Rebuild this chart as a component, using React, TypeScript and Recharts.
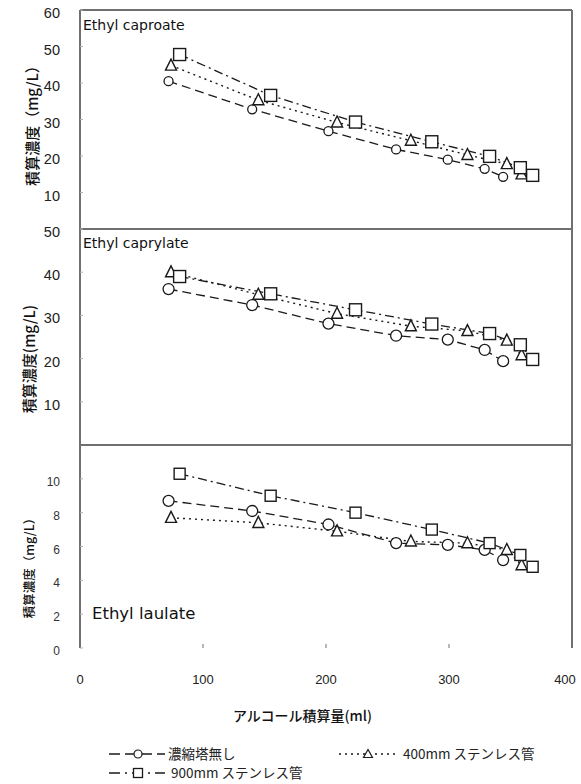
import React from 'react';
import { LineChart, Line, XAxis, YAxis } from 'recharts';

// x positions (アルコール積算量, ml) per series
const xNone = [72, 140, 202, 257, 299, 329, 344];
const x400 = [74, 145, 209, 269, 315, 347, 359];
const x900 = [81, 155, 224, 286, 333, 358, 368];

// Ethyl caproate (mg/L)
const caproNone = [40.5, 32.8, 26.8, 21.8, 19.0, 16.5, 14.3];
const capro400 = [44.8, 35.3, 29.2, 24.2, 20.3, 17.8, 15.0];
const capro900 = [47.8, 36.6, 29.3, 23.9, 19.9, 16.8, 14.7];

// Ethyl caprylate (mg/L)
const caprylNone = [36.1, 32.4, 28.1, 25.3, 24.4, 22.0, 19.4];
const capryl400 = [40.0, 34.8, 30.4, 27.5, 26.4, 24.2, 20.8];
const capryl900 = [39.0, 35.0, 31.3, 28.0, 25.8, 23.2, 19.8];

// Ethyl laulate (mg/L)
const laulNone = [8.7, 8.1, 7.3, 6.2, 6.1, 5.8, 5.2];
const laul400 = [7.7, 7.4, 6.9, 6.3, 6.2, 5.8, 4.9];
const laul900 = [10.3, 9.0, 8.0, 7.0, 6.2, 5.5, 4.8];

const xTicks = [0, 100, 200, 300, 400];
const caproTicks = [10, 20, 30, 40, 50, 60];
const caprylTicks = [10, 20, 30, 40, 50];
const laulTicks = [0, 2, 4, 6, 8, 10];

const seriesNames = ['濃縮塔無し', '400mm ステンレス管', '900mm ステンレス管'];
const panelTitles = ['Ethyl caproate', 'Ethyl caprylate', 'Ethyl laulate'];
const yTitles = ['積算濃度（mg/L）', '積算濃度(mg/L)', '積算濃度（mg/L）'];
const xTitle = 'アルコール積算量(ml)';

const pts = (xs: number[], ys: number[]) => xs.map((x, i) => ({ x, y: ys[i] }));

const INK = '#1a1a1a';
const AXIS = '#707070';
const SANS = '"Liberation Sans", Arial, sans-serif';
const CJK = '"Noto Sans CJK JP", sans-serif';
const LATIN = '"DejaVu Sans", sans-serif';

const DASH_NONE = '9 5';
const DASH_400 = '2 4';
const DASH_900 = '9 4 2 4';

// layout of the plot frame (px)
const PLOT_LEFT = 80;
const PLOT_RIGHT = 572;
const CHART_W = 581;
const Y_MARGIN = 20;
const X_MARGIN = 30;

const circleDot = (r: number) => (p: any) => {
  if (p.cx == null || p.cy == null) return <g key={`c${p.index}`} />;
  return <circle key={`c${p.index}`} cx={p.cx} cy={p.cy} r={r} fill="#fff" stroke={INK} strokeWidth={1.3} />;
};
const triDot = (s: number) => (p: any) => {
  if (p.cx == null || p.cy == null) return <g key={`t${p.index}`} />;
  const { cx, cy } = p;
  const pts = `${cx},${cy - s * 0.58} ${cx - s / 2},${cy + s * 0.42} ${cx + s / 2},${cy + s * 0.42}`;
  return <polygon key={`t${p.index}`} points={pts} fill="#fff" stroke={INK} strokeWidth={1.4} />;
};
const sqDot = (s: number) => (p: any) => {
  if (p.cx == null || p.cy == null) return <g key={`s${p.index}`} />;
  return <rect key={`s${p.index}`} x={p.cx - s / 2} y={p.cy - s / 2} width={s} height={s} fill="#fff" stroke={INK} strokeWidth={1.4} />;
};

// y tick: small inward mark on the axis + right-aligned label
const makeYTick = (fs: number, fill: string) => (p: any) => {
  const ax = p.x + Y_MARGIN;
  const v = p.payload.value;
  return (
    <g key={`yt${v}`}>
      <path d={`M${ax},${p.y}H${ax + 3}`} stroke="#b0b0b0" strokeWidth={1} fill="none" />
      <text x={p.x} y={p.y + 3} textAnchor="end" dominantBaseline="central" fontSize={fs} fill={fill} fontFamily={SANS}>
        {v}
      </text>
    </g>
  );
};

// x tick: small upward mark from the bottom edge, optional label below
const makeXTick = (showLabel: boolean, margin: number) => (p: any) => {
  const ay = p.y - margin;
  const v = p.payload.value;
  const last = v === xTicks[xTicks.length - 1];
  return (
    <g key={`xt${v}`}>
      <path d={`M${p.x},${ay}V${ay - 4}`} stroke={AXIS} strokeWidth={1} fill="none" />
      {showLabel && (
        <text x={p.x + (last ? -7 : 0)} y={ay + 31} textAnchor="middle" dominantBaseline="central" fontSize={13} fill="#222" fontFamily={SANS}>
          {v}
        </text>
      )}
    </g>
  );
};

type PanelProps = {
  top: number;
  plotH: number;
  xAxisH: number;
  yMax: number;
  yTicks: number[];
  none: number[];
  s400: number[];
  s900: number[];
  showXLabels: boolean;
  small: boolean;
  cr: number;
  ts: number;
  ss: number;
};

function Panel(props: PanelProps) {
  const { top, plotH, xAxisH, yMax, yTicks, none, s400, s900, showXLabels, small, cr, ts, ss } = props;
  const h = 10 + plotH + xAxisH;
  const xm = showXLabels ? X_MARGIN : 0;
  return (
    <div style={{ position: 'absolute', left: 0, top: top - 10, width: CHART_W, height: h }}>
      <LineChart width={CHART_W} height={h} margin={{ top: 10, right: CHART_W - PLOT_RIGHT, bottom: 0, left: 0 }}>
        <XAxis
          type="number"
          dataKey="x"
          domain={[0, 400]}
          ticks={xTicks}
          interval={0}
          height={xAxisH}
          stroke={AXIS}
          axisLine={false}
          tickLine={false}
          tickSize={0}
          tickMargin={xm}
          tick={makeXTick(showXLabels, xm)}
        />
        <YAxis
          type="number"
          dataKey="y"
          domain={[0, yMax]}
          ticks={yTicks}
          interval={0}
          width={PLOT_LEFT}
          stroke={AXIS}
          axisLine={false}
          tickLine={false}
          tickSize={0}
          tickMargin={Y_MARGIN}
          tick={makeYTick(small ? 12 : 14.5, small ? '#333' : '#222')}
        />
        <Line
          data={pts(xNone, none)}
          dataKey="y"
          stroke={INK}
          strokeWidth={1.3}
          strokeDasharray={DASH_NONE}
          dot={circleDot(cr)}
          isAnimationActive={false}
        />
        <Line
          data={pts(x400, s400)}
          dataKey="y"
          stroke={INK}
          strokeWidth={1.4}
          strokeDasharray={DASH_400}
          dot={triDot(ts)}
          isAnimationActive={false}
        />
        <Line
          data={pts(x900, s900)}
          dataKey="y"
          stroke={INK}
          strokeWidth={1.3}
          strokeDasharray={DASH_900}
          dot={sqDot(ss)}
          isAnimationActive={false}
        />
      </LineChart>
    </div>
  );
}

const abs = (left: number, top: number, extra: React.CSSProperties = {}): React.CSSProperties => ({
  position: 'absolute',
  left,
  top,
  whiteSpace: 'nowrap',
  lineHeight: 1,
  ...extra,
});

const rotated = (cx: number, cy: number, fontSize: number): React.CSSProperties => ({
  position: 'absolute',
  left: cx,
  top: cy,
  transform: 'translate(-50%, -50%) rotate(-90deg)',
  whiteSpace: 'nowrap',
  fontFamily: CJK,
  fontSize,
  lineHeight: 1,
  color: '#111',
  fontWeight: 500,
});

const hLine = (top: number, w: number): React.CSSProperties => ({
  position: 'absolute', left: PLOT_LEFT, top: top - w / 2, width: PLOT_RIGHT - PLOT_LEFT, height: w, background: AXIS,
});
const vLine = (left: number, top: number, bottom: number): React.CSSProperties => ({
  position: 'absolute', left: left - 0.75, top, width: 1.5, height: bottom - top, background: AXIS,
});

function LegendIcon({ dash, kind }: { dash: string; kind: 'c' | 't' | 's' }) {
  return (
    <svg width={56} height={14} style={{ display: 'block' }}>
      <line x1={0} y1={7} x2={56} y2={7} stroke={INK} strokeWidth={1.4} strokeDasharray={dash} />
      {kind === 'c' && <circle cx={29} cy={7} r={4} fill="#fff" stroke={INK} strokeWidth={1.2} />}
      {kind === 't' && <polygon points="29,2.5 24.5,10.5 33.5,10.5" fill="#fff" stroke={INK} strokeWidth={1.2} />}
      {kind === 's' && <rect x={24.5} y={2.5} width={9} height={9} fill="#fff" stroke={INK} strokeWidth={1.3} />}
    </svg>
  );
}

export default function App() {
  return (
    <div style={{ position: 'absolute', left: 0, top: 0, width: 581, height: 784, background: '#fff', overflow: 'hidden' }}>
      {/* plot frame */}
      <div style={hLine(10, 2)} />
      <div style={hLine(229, 1.5)} />
      <div style={hLine(445, 1.5)} />
      <div style={vLine(PLOT_LEFT, 10, 648)} />
      <div style={vLine(PLOT_RIGHT, 10, 648)} />

      <Panel top={10} plotH={219} xAxisH={0} yMax={60} yTicks={caproTicks} none={caproNone} s400={capro400} s900={capro900}
        showXLabels={false} small={false} cr={4.5} ts={11} ss={12} />
      <Panel top={229} plotH={216} xAxisH={0} yMax={50} yTicks={caprylTicks} none={caprylNone} s400={capryl400} s900={capryl900}
        showXLabels={false} small={false} cr={5.5} ts={11} ss={12} />
      <Panel top={445} plotH={203} xAxisH={45} yMax={12} yTicks={laulTicks} none={laulNone} s400={laul400} s900={laul900}
        showXLabels small cr={5.5} ts={11} ss={11} />

      <div style={abs(83, 18, { fontFamily: LATIN, fontSize: 14, color: '#111' })}>{panelTitles[0]}</div>
      <div style={abs(83, 236, { fontFamily: LATIN, fontSize: 14, color: '#111' })}>{panelTitles[1]}</div>
      <div style={abs(92, 606, { fontFamily: LATIN, fontSize: 16.5, color: '#111' })}>{panelTitles[2]}</div>

      <div style={rotated(31, 122, 15)}>{yTitles[0]}</div>
      <div style={rotated(28, 359, 15)}>{yTitles[1]}</div>
      <div style={rotated(29, 565, 12.5)}>{yTitles[2]}</div>

      <div style={abs(233, 708, { fontFamily: CJK, fontSize: 14, color: '#111', fontWeight: 500 })}>{xTitle}</div>

      <div style={abs(109, 747, { display: 'flex', alignItems: 'center' })}>
        <LegendIcon dash="11 5" kind="c" />
        <span style={{ marginLeft: 3, fontFamily: CJK, fontSize: 13.5, color: '#222' }}>{seriesNames[0]}</span>
      </div>
      <div style={abs(339, 747, { display: 'flex', alignItems: 'center' })}>
        <LegendIcon dash="2 4" kind="t" />
        <span style={{ marginLeft: 8, fontFamily: CJK, fontSize: 13.5, color: '#222' }}>{seriesNames[1]}</span>
      </div>
      <div style={abs(109, 766, { display: 'flex', alignItems: 'center' })}>
        <LegendIcon dash="11 5 2 5" kind="s" />
        <span style={{ marginLeft: 6, fontFamily: CJK, fontSize: 13.5, color: '#222' }}>{seriesNames[2]}</span>
      </div>
    </div>
  );
}
